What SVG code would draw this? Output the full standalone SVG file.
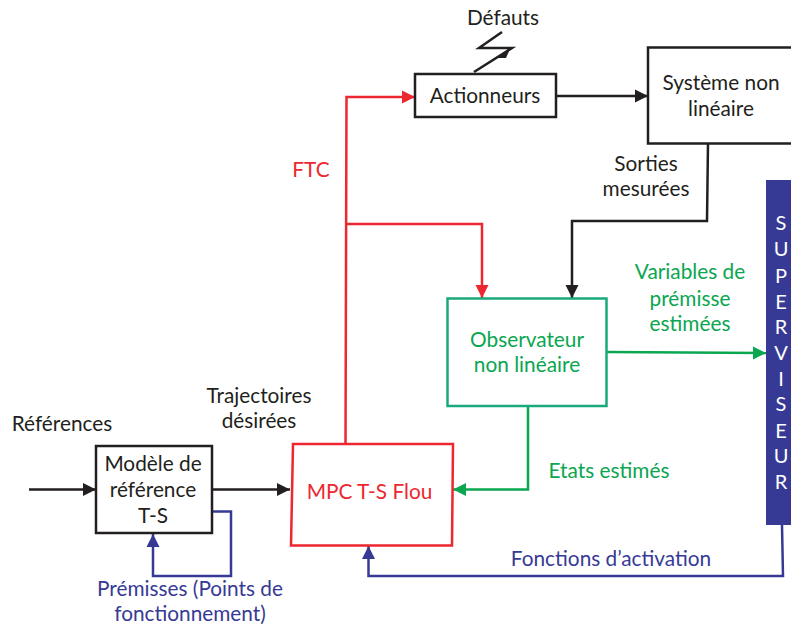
<svg xmlns="http://www.w3.org/2000/svg" width="791" height="626" viewBox="0 0 791 626">
<defs>
<marker id="ak" markerUnits="userSpaceOnUse" markerWidth="14" markerHeight="14" refX="13" refY="7" orient="auto"><path d="M0 0.500L13 7L0 13.500Z" fill="#231f20"/></marker>
<marker id="ar" markerUnits="userSpaceOnUse" markerWidth="14" markerHeight="14" refX="13" refY="7" orient="auto"><path d="M0 0.500L13 7L0 13.500Z" fill="#ed2730"/></marker>
<marker id="ag" markerUnits="userSpaceOnUse" markerWidth="14" markerHeight="14" refX="13" refY="7" orient="auto"><path d="M0 0.500L13 7L0 13.500Z" fill="#0aa650"/></marker>
<marker id="ab" markerUnits="userSpaceOnUse" markerWidth="14" markerHeight="14" refX="13" refY="7" orient="auto"><path d="M0 0.500L13 7L0 13.500Z" fill="#373a95"/></marker>
</defs>
<style>
text{font-family:"Lato","Open Sans",sans-serif;font-size:20.8px;text-anchor:middle;fill:#231f20}
.box{fill:#fff;stroke:#231f20;stroke-width:2.5}
.c{fill:none;stroke-width:2.5;stroke-linejoin:miter}
.k{stroke:#231f20}.r{stroke:#ed2730}.g{stroke:#0aa650}.b{stroke:#373a95}
.tr{fill:#ed2730}.tg{fill:#0aa650}.tb{fill:#373a95}
.sv{fill:#fff;font-size:20px}
</style>
<g id="connectors">
<path class="c k" d="M29 489.500H96" marker-end="url(#ak)"/>
<path class="c k" d="M212 489.500H290" marker-end="url(#ak)"/>
<path class="c k" d="M556 96H648" marker-end="url(#ak)"/>
<path class="c k" d="M708 143L707 221H572V298" marker-end="url(#ak)"/>
<path class="c r" d="M345.500 444L346.500 97H415" marker-end="url(#ar)"/>
<path class="c r" d="M346 224H482V298" marker-end="url(#ar)"/>
<path class="c g" d="M607 352L766 353" marker-end="url(#ag)"/>
<path class="c g" d="M528 406V489.500H453" marker-end="url(#ag)"/>
<path class="c b" d="M782 525L783 576H368.500V546" marker-end="url(#ab)"/>
<path class="c b" d="M212 511.500H231V576H153V534" marker-end="url(#ab)"/>
<path class="c k" d="M502 32L479 48H512L474 72"/>
<path d="M495 58L510 49L506 58Z" fill="#231f20"/>
</g>
<g id="actionneurs"><rect class="box" x="415" y="74" width="141" height="43"/><text x="485" y="103">Actionneurs</text></g>
<g id="systeme"><rect class="box" x="648" y="47.500" width="146" height="96"/><text x="721" y="90">Système non</text><text x="721" y="116">linéaire</text></g>
<g id="modele"><rect class="box" x="96" y="446" width="116" height="87"/><text x="153" y="471">Modèle de</text><text x="153" y="497">référence</text><text x="153" y="523">T-S</text></g>
<g id="mpc"><path d="M293 444H453L452 545.500H291Z" fill="#fff" stroke="#ed2730" stroke-width="2.500"/><text class="tr" x="369.500" y="499">MPC T-S Flou</text></g>
<g id="observateur"><rect x="447.500" y="298.500" width="159" height="107.500" fill="#fff" stroke="#1aa97c" stroke-width="2.500"/><text class="tg" x="527" y="347">Observateur</text><text class="tg" x="527" y="372">non linéaire</text></g>
<g id="superviseur"><rect x="766" y="180" width="27" height="345" fill="#373a95"/>
<text class="sv" x="781" y="230">S</text><text class="sv" x="781" y="256">U</text><text class="sv" x="781" y="283">P</text><text class="sv" x="781" y="309">E</text><text class="sv" x="781" y="334">R</text><text class="sv" x="781" y="360">V</text><text class="sv" x="781" y="386">I</text><text class="sv" x="781" y="411">S</text><text class="sv" x="781" y="438">E</text><text class="sv" x="781" y="463">U</text><text class="sv" x="781" y="489">R</text></g>
<g id="labels">
<text x="503" y="25">Défauts</text>
<text x="646" y="171">Sorties</text><text x="646" y="196">mesurées</text>
<text class="tr" x="311" y="177">FTC</text>
<text class="tg" x="690" y="279">Variables de</text><text class="tg" x="690" y="306">prémisse</text><text class="tg" x="690" y="331">estimées</text>
<text class="tg" x="609" y="478">Etats estimés</text>
<text x="62" y="431">Références</text>
<text x="259" y="403">Trajectoires</text><text x="259" y="428">désirées</text>
<text class="tb" x="190" y="596">Prémisses (Points de</text><text class="tb" x="190" y="621">fonctionnement)</text>
<text class="tb" x="611" y="566">Fonctions d’activation</text>
</g>
</svg>
